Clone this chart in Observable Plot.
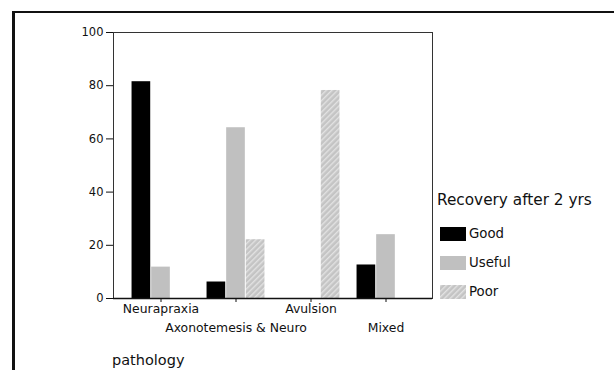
<!DOCTYPE html>
<html>
<head>
<meta charset="utf-8">
<script src="https://cdn.jsdelivr.net/npm/d3@7"></script>
<script src="https://cdn.jsdelivr.net/npm/@observablehq/plot@0.6"></script>
<style>
  html, body { margin: 0; padding: 0; background: #fff; }
  body { width: 614px; height: 370px; overflow: hidden; font-family: "DejaVu Sans", sans-serif; }
  #wrap { position: relative; width: 614px; height: 370px; }
  #border { position: absolute; left: 12px; top: 11px; width: 620px; height: 380px;
            border-left: 3px solid #111; border-top: 2px solid #111; box-sizing: border-box; }
  #chart { position: absolute; left: 0; top: 0; }
  #xlabel { position: absolute; left: 112px; top: 352px; font-size: 14.5px; color: #111; }
  #legend { position: absolute; left: 437px; top: 191px; color: #111; }
  #legend .title { font-size: 15.3px; margin-bottom: 18px; white-space: nowrap; }
  #legend .item { display: flex; align-items: center; height: 13px; margin-bottom: 16px; font-size: 13.3px; }
  #legend svg { margin-left: 3px; margin-right: 3px; }
</style>
</head>
<body>
<div id="wrap">
  <svg width="0" height="0" style="position:absolute">
    <defs>
      <pattern id="hatch" width="4" height="4" patternUnits="userSpaceOnUse" patternTransform="rotate(45)">
        <rect width="4" height="4" fill="#c4c4c4"></rect>
        <rect width="1.4" height="4" fill="#e2e2e2"></rect>
      </pattern>
    </defs>
  </svg>
  <div id="border"></div>
  <div id="chart"></div>
  <div id="xlabel">pathology</div>
  <div id="legend"></div>
</div>
<script>
const pathologies = ["Neurapraxia", "Axonotemesis & Neuro", "Avulsion", "Mixed"];
const recoveries = ["Good", "Useful", "Poor"];
const goodValues = [81.5, 6.2, 0, 12.6];
const usefulValues = [11.8, 64.2, 0, 24.0];
const poorValues = [0, 22.1, 78.2, 0];
const yTicks = [0, 20, 40, 60, 80, 100];
const xTicksRow1 = ["Neurapraxia", "Avulsion"];
const xTicksRow2 = ["Axonotemesis & Neuro", "Mixed"];
const legendTitle = "Recovery after 2 yrs";

const colors = {Good: "#000000", Useful: "#c0c0c0", Poor: "url(#hatch)"};
const seriesValues = {Good: goodValues, Useful: usefulValues, Poor: poorValues};

const data = [];
recoveries.forEach(r => pathologies.forEach((p, i) => data.push({pathology: p, recovery: r, value: seriesValues[r][i]})));

const W = 614, H = 370;
const mL = 113, mR = 182, mT = 32, mB = 72;
const outer = 0.1;
const step = (W - mL - mR) / (pathologies.length + 2 * outer);
const groupFrac = 0.775;
const barW = step * groupFrac / recoveries.length;
const inset = (step - barW) / 2;

const font = "DejaVu Sans, sans-serif";

const barMarks = recoveries.map((r, k) =>
  Plot.barY(data.filter(d => d.recovery === r && d.value > 0), {
    x: "pathology", y: "value",
    fill: colors[r],
    insetLeft: inset, insetRight: inset,
    dx: (k - 1) * barW
  })
);

const plot = Plot.plot({
  width: W, height: H,
  marginLeft: mL, marginRight: mR, marginTop: mT, marginBottom: mB,
  style: {fontFamily: font, color: "#111", background: "transparent"},
  x: {domain: pathologies, paddingInner: 0, paddingOuter: outer},
  y: {domain: [0, 100]},
  marks: [
    ...barMarks,
    Plot.frame({stroke: "#333", strokeWidth: 1}),
    Plot.axisY(yTicks, {tickSize: 7, tickPadding: 3, fontSize: 11.5, label: null, stroke: "#111"}),
    Plot.axisX(xTicksRow1, {tickSize: 4, tickPadding: 2, fontSize: 12.4, label: null, stroke: "#111"}),
    Plot.axisX(xTicksRow2, {tickSize: 4, tickPadding: 21, fontSize: 12.4, label: null, stroke: "#111"}),
    Plot.ruleY([0], {stroke: "#111", strokeWidth: 1.3})
  ]
});
document.getElementById("chart").appendChild(plot);

// Legend
const legend = document.getElementById("legend");
const t = document.createElement("div");
t.className = "title";
t.textContent = legendTitle;
legend.appendChild(t);
recoveries.forEach(r => {
  const item = document.createElement("div");
  item.className = "item";
  item.innerHTML = `<svg width="26" height="14"><rect width="26" height="14" fill="${colors[r]}"></rect></svg><span>${r}</span>`;
  legend.appendChild(item);
});
</script>
</body>
</html>
